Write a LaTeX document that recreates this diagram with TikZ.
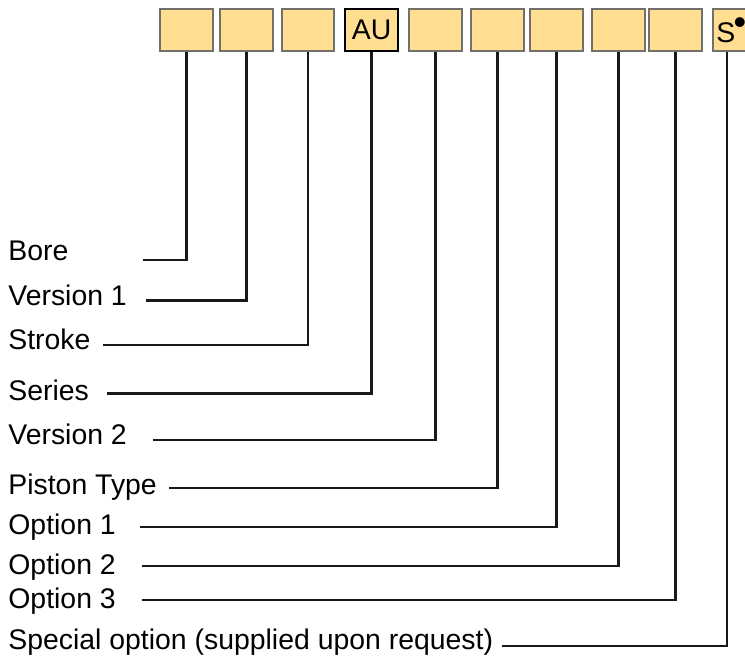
\documentclass[tikz,border=0pt]{standalone}
\usepackage{fontspec}
\setmainfont{Liberation Sans}
\definecolor{boxfill}{RGB}{255,222,145}
\definecolor{boxline}{RGB}{115,112,108}
\definecolor{leader}{RGB}{25,25,25}
\begin{document}
\begin{tikzpicture}[x=0.5pt,y=-0.5pt,font=\fontsize{14.2}{17}\selectfont,
	codebox/.style={draw=boxline,fill=boxfill,line width=1pt,minimum width=26.3pt,minimum height=20.7pt,inner sep=0pt},
	seriesbox/.style={codebox,draw=black},
	caption/.style={anchor=base west,inner sep=0pt},
	conn/.style={draw=leader,line width=1.25pt}]
	\useasboundingbox (0,0) rectangle (745,655);
	
	%code boxes
	\node[codebox] (b1) at (186.7,30) {}; %bore
	\node[codebox] (b2) at (246.5,30) {}; %version 1
	\node[codebox] (b3) at (307.8,30) {}; %stroke
	\node[seriesbox] (b4) at (371.7,30) {AU}; %series
	\node[codebox] (b5) at (435.5,30) {}; %version 2
	\node[codebox] (b6) at (497.5,30) {}; %piston type
	\node[codebox] (b7) at (556.3,30) {}; %option 1
	\node[codebox] (b8) at (618.3,30) {}; %option 2
	\node[codebox] (b9) at (675.5,30) {}; %option 3
	\node[codebox,anchor=west] (b10) at (711.7,30) {}; %special
	\node[caption] (sfx) at (716,42.3) {S\kern-0.9pt\raisebox{3.9pt}{\fontsize{18}{18}\selectfont•}}; %special mark
	
	%labels
	\node[caption] (bore) at (8,260) {Bore};
	\node[caption] (ver1) at (8,305) {Version 1};
	\node[caption] (strk) at (8,349) {Stroke};
	\node[caption] (ser) at (8,400) {Series};
	\node[caption] (ver2) at (8,444.3) {Version 2};
	\node[caption] (pist) at (8,494) {Piston Type};
	\node[caption] (opt1) at (8,534) {Option 1};
	\node[caption] (opt2) at (8,574.3) {Option 2};
	\node[caption] (opt3) at (8,608.3) {Option 3};
	\node[caption] (spec) at (8,649) {Special option (supplied upon request)};
	
	%leader starts
	\coordinate (bore-l) at (142.7,260);
	\coordinate (ver1-l) at (145.7,300.7);
	\coordinate (strk-l) at (103.3,345);
	\coordinate (ser-l) at (106.7,393.3);
	\coordinate (ver2-l) at (152.7,440);
	\coordinate (pist-l) at (169,488);
	\coordinate (opt1-l) at (140,527);
	\coordinate (opt2-l) at (141.7,566);
	\coordinate (opt3-l) at (141.7,600);
	\coordinate (spec-l) at (501.7,646);
	
	%leaders
	\draw[conn] (bore-l) -| (b1.south);
	\draw[conn] (ver1-l) -| (b2.south);
	\draw[conn] (strk-l) -| (b3.south);
	\draw[conn] (ser-l) -| (b4.south);
	\draw[conn] (ver2-l) -| (b5.south);
	\draw[conn] (pist-l) -| (b6.south);
	\draw[conn] (opt1-l) -| (b7.south);
	\draw[conn] (opt2-l) -| (b8.south);
	\draw[conn] (opt3-l) -| (b9.south);
	\draw[conn] (spec-l) -| ([xshift=-6.1pt]b10.south);
\end{tikzpicture}
\end{document}
